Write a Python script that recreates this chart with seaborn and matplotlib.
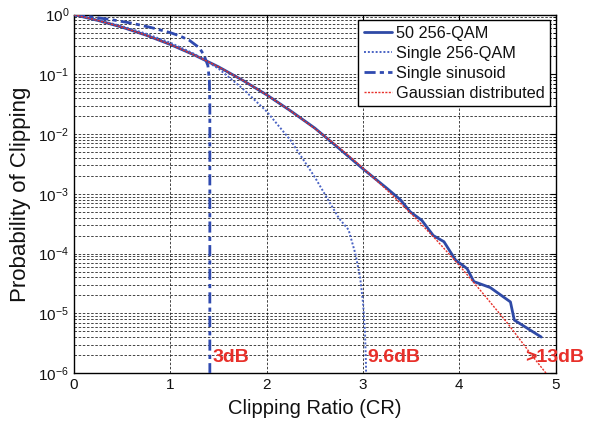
import numpy as np
import pandas as pd
import matplotlib
matplotlib.use("Agg")
import matplotlib.pyplot as plt
import seaborn as sns
from matplotlib.ticker import FixedLocator, NullFormatter, NullLocator

# Clipping probability curves versus clipping ratio
gauss_cr = [0.0, 0.25, 0.5, 0.75, 1.0, 1.25, 1.5, 1.75, 2.0, 2.25, 2.5, 2.75,
            3.0, 3.25, 3.5, 3.75, 4.0, 4.25, 4.5, 4.75, 4.92]
gauss_p = [1.0, 0.80, 0.617, 0.453, 0.317, 0.211, 0.134, 0.080, 0.0455, 0.0244,
           0.0124, 0.0060, 0.0027, 1.15e-3, 4.65e-4, 1.77e-4, 6.3e-5, 2.1e-5,
           6.8e-6, 2.0e-6, 9.0e-7]

qam50_cr = [0.0, 0.25, 0.5, 0.75, 1.0, 1.25, 1.5, 1.75, 2.0, 2.25, 2.5, 2.76,
            2.99, 3.25, 3.39, 3.49, 3.61, 3.73, 3.84, 3.96, 4.08, 4.15, 4.32,
            4.53, 4.57, 4.85]
qam50_p = [1.0, 0.80, 0.617, 0.453, 0.317, 0.211, 0.134, 0.080, 0.0455, 0.0244,
           0.0126, 5.6e-3, 2.7e-3, 1.23e-3, 7.9e-4, 5.0e-4, 3.6e-4, 2.0e-4,
           1.58e-4, 7.8e-5, 5.6e-5, 3.4e-5, 2.7e-5, 1.55e-5, 7.7e-6, 4.0e-6]

qam1_cr = [0.0, 0.25, 0.5, 0.75, 1.0, 1.25, 1.5, 1.75, 2.0, 2.25, 2.5, 2.75,
           2.85, 2.92, 2.97, 3.0, 3.02, 3.03, 3.035]
qam1_p = [1.0, 0.82, 0.64, 0.48, 0.34, 0.22, 0.125, 0.058, 0.024, 0.0078,
          0.0019, 3.9e-4, 2.5e-4, 1.0e-4, 4.0e-5, 1.5e-5, 5.0e-6, 1.5e-6, 5.0e-7]

sine_cr = [0.0, 0.2, 0.4, 0.6, 0.8, 1.0, 1.1, 1.2, 1.3, 1.35, 1.39, 1.405,
           1.41, 1.41]
sine_p = [1.0, 0.91, 0.82, 0.72, 0.61, 0.50, 0.44, 0.37, 0.28, 0.21, 0.14,
          0.08, 0.03, 1e-7]

labels = ["50 256-QAM", "Single 256-QAM", "Single sinusoid", "Gaussian distributed"]
db_marks = ["3dB", "9.6dB", ">13dB"]
db_x = [1.44, 3.04, 4.68]

x_ticks = [0, 1, 2, 3, 4, 5]
y_exponents = [-6, -5, -4, -3, -2, -1, 0]

frames = []
for name, xs, ys in zip(labels, [qam50_cr, qam1_cr, sine_cr, gauss_cr],
                        [qam50_p, qam1_p, sine_p, gauss_p]):
    frames.append(pd.DataFrame({"cr": xs, "p": ys, "signal": name}))
df = pd.concat(frames, ignore_index=True)

sns.set_theme(style="white")
plt.rcParams["font.family"] = ["Liberation Sans", "DejaVu Sans"]
plt.rcParams["mathtext.fontset"] = "custom"
plt.rcParams["mathtext.rm"] = "Liberation Sans"
plt.rcParams["mathtext.it"] = "Liberation Sans:italic"
plt.rcParams["mathtext.default"] = "regular"

fig = plt.figure(figsize=(5.9, 4.26), dpi=100)
ax = fig.add_axes([0.1254, 0.1244, 0.8165, 0.8411])

styles = {
    "50 256-QAM": dict(color="#2f4aa6", lw=2.0, ls="-", z=3),
    "Single 256-QAM": dict(color="#4a63c4", lw=1.4, ls=(0, (1, 1)), z=3),
    "Single sinusoid": dict(color="#2f4ab0", lw=2.0, ls=(0, (4, 1.5, 1.5, 1.5)), z=3),
    "Gaussian distributed": dict(color="#e8302a", lw=1.0, ls=(0, (1.5, 1)), z=4),
}
for name in labels:
    st = styles[name]
    sns.lineplot(data=df[df["signal"] == name], x="cr", y="p", ax=ax,
                 estimator=None, sort=False, color=st["color"], lw=st["lw"],
                 linestyle=st["ls"], label=name, zorder=st["z"])

ax.set_yscale("log")
ax.set_xlim(0, 5)
ax.set_ylim(1e-6, 1)

# decade ticks with 10^n labels, minor ticks only inside the visible range
major_y = [10.0 ** e for e in y_exponents]
minor_y = [m * 10.0 ** e for e in y_exponents[:-1] for m in range(2, 10)]
ax.yaxis.set_major_locator(FixedLocator(major_y))
ax.set_yticklabels([f"$10^{{{e}}}$" for e in y_exponents])
ax.yaxis.set_minor_locator(FixedLocator(minor_y))
ax.yaxis.set_minor_formatter(NullFormatter())
ax.xaxis.set_minor_locator(NullLocator())
ax.set_xticks(x_ticks)
ax.set_xticklabels([str(v) for v in x_ticks])

grid_kw = dict(color="black", lw=0.6, ls=(0, (3, 2)), alpha=0.85)
ax.grid(True, which="major", axis="both", **grid_kw)
ax.grid(True, which="minor", axis="y", **grid_kw)
ax.set_axisbelow(True)

for sp in ax.spines.values():
    sp.set_color("black")
    sp.set_linewidth(1.0)
ax.tick_params(which="both", direction="in", top=True, right=True,
               color="black", labelsize=11, labelcolor="#111111")
ax.tick_params(which="major", length=4, width=0.8)
ax.tick_params(which="minor", length=2, width=0.6)

ax.set_xlabel("Clipping Ratio (CR)", fontsize=14.5, color="#111111", labelpad=5)
ax.set_ylabel("Probability of Clipping", fontsize=16, color="#111111", labelpad=5)

for t, xv in zip(db_marks, db_x):
    ax.text(xv, 1.8e-6, t, color="#e8302a", fontsize=14, fontweight="bold",
            va="center", ha="left", clip_on=False, zorder=5)

leg = ax.legend(loc="upper right", fontsize=11.7, frameon=True, fancybox=False,
                edgecolor="black", framealpha=1, borderpad=0.35,
                labelspacing=0.3, handlelength=1.7, handletextpad=0.25,
                borderaxespad=0.35)
leg.get_frame().set_linewidth(1.0)
for txt in leg.get_texts():
    txt.set_color("#111111")

fig.savefig("out.png", dpi=100)
